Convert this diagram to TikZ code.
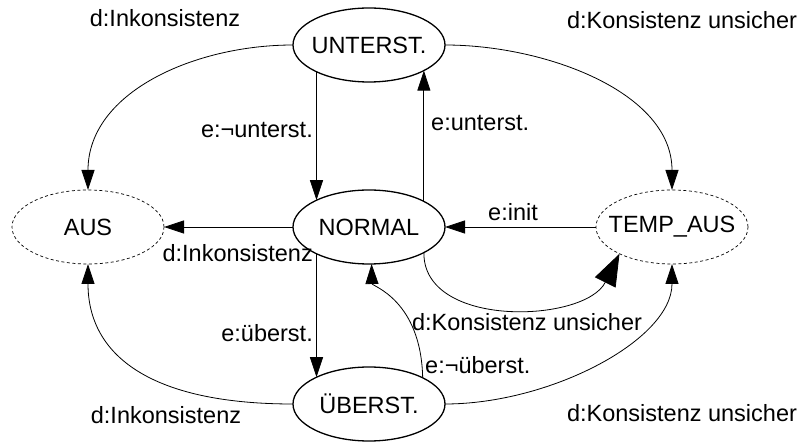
\documentclass[tikz,border=0pt]{standalone}
\usepackage{fontspec}
\setmainfont{Liberation Sans}
\usetikzlibrary{arrows.meta,shapes.geometric}
\begin{document}
\begin{tikzpicture}[x=1pt,y=-1pt,
  every node/.style={font=\fontsize{23.5}{28}\selectfont},
  state/.style={ellipse,draw,line width=1.3pt,minimum width=152pt,minimum height=74pt,inner sep=0pt,outer sep=0pt,fill=white},
  vstate/.style={state,line width=0.7pt,dash pattern=on 3pt off 2.5pt},
  edge/.style={line width=0.8pt,-{Triangle[length=20pt,width=13pt]}},
  bigedge/.style={line width=0.8pt,-{Triangle[length=32pt,width=23pt]}},
  lbl/.style={inner sep=0pt}]
\useasboundingbox (0,0) rectangle (804,443);
% states
\node[state]  (u) at (369,45)  {\makebox[0pt]{UNTERST.}};
\node[state]  (n) at (369,227) {\makebox[0pt]{NORMAL}};
\node[state]  (b) at (369,404) {\makebox[0pt]{ÜBERST.}};
\node[vstate] (a) at (88,227)  {\makebox[0pt]{AUS}};
\node[vstate] (t) at (672,227) {\makebox[0pt]{TEMP\_AUS}};
% vertical transitions
\draw[edge] (u.-153.4) -- (n.153.4);
\draw[edge] (n.25.7) -- (u.-25.7);
\draw[edge] (n.-153.4) -- (b.153.4);
\draw[edge] (b.26.6) .. controls (421,300) and (372,286) .. (n.-86);
% horizontal transitions
\draw[edge] (n.west) -- (a.east);
\draw[edge] (t.west) -- (n.east);
\draw[bigedge] (n.-25.7) .. controls (423,329) and (585,323) .. (t.-153.4);
% outer curves
\draw[edge] (u.west) .. controls (195,45) and (88,92) .. (a.north);
\draw[edge] (u.east) .. controls (545,45) and (672,92) .. (t.north);
\draw[edge] (b.west) .. controls (150,404) and (88,355) .. (a.south);
\draw[edge] (b.east) .. controls (550,404) and (672,340) .. (t.south);
% labels
\node[lbl] (l1)  at (165,18)  {d:Inkonsistenz};
\node[lbl] (l2)  at (682,20)  {d:Konsistenz unsicher};
\node[lbl,anchor=east] (l3) at (313,130) {e:¬unterst.};
\node[lbl,anchor=west] (l4) at (431,123) {e:unterst.};
\node[lbl,anchor=east] (l5) at (313,253) {d:Inkonsistenz};
\node[lbl] (l6)  at (513,212) {e:init};
\node[lbl] (l7)  at (527,322) {d:Konsistenz unsicher};
\node[lbl,anchor=east] (l8) at (313,333) {e:überst.};
\node[lbl,anchor=west] (l9) at (425,365) {e:¬überst.};
\node[lbl] (l10) at (166,415) {d:Inkonsistenz};
\node[lbl] (l11) at (682,413) {d:Konsistenz unsicher};
\end{tikzpicture}
\end{document}
